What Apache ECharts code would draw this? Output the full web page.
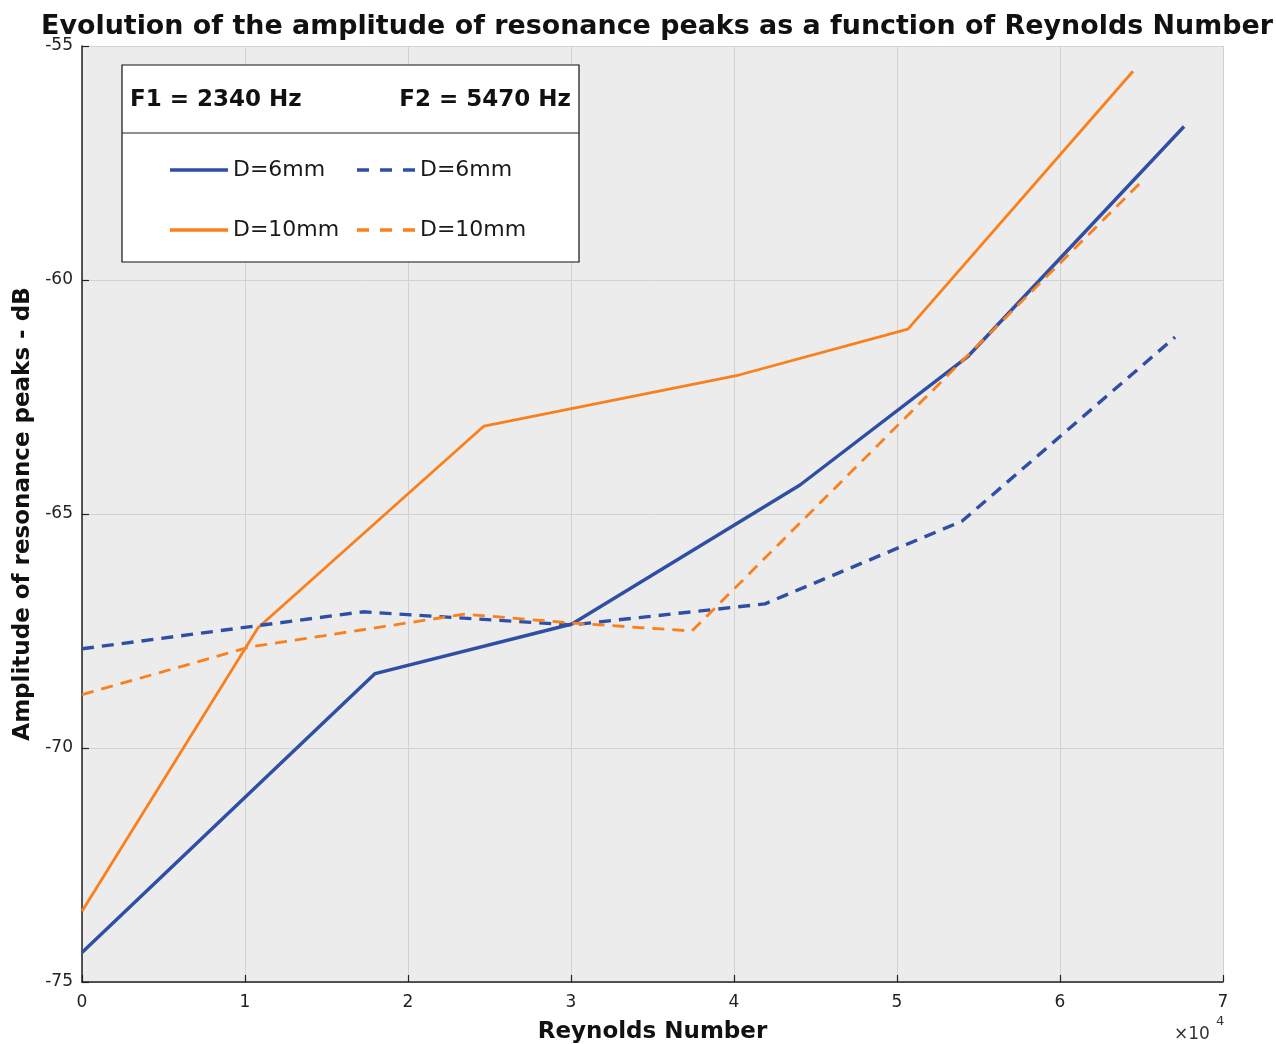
<!DOCTYPE html>
<html>
<head>
<meta charset="utf-8">
<script src="https://cdn.jsdelivr.net/npm/echarts@6/dist/echarts.min.js"></script>
<style>
html, body { margin: 0; padding: 0; background: #fff; }
#chart { width: 1276px; height: 1044px; }
</style>
</head>
<body>
<div id="chart"></div>
<script>
// Reynolds number (x) and peak amplitude in dB (y)
var reF1D6  = [0, 17980, 30060, 44050, 54360, 67610];
var dbF1D6  = [-74.37, -68.41, -67.35, -64.38, -61.63, -56.72];
var reF1D10 = [0, 10800, 24660, 40300, 50670, 64480];
var dbF1D10 = [-73.49, -67.43, -63.12, -62.03, -61.05, -55.54];
var reF2D6  = [0, 17240, 30060, 41900, 54000, 67060];
var dbF2D6  = [-67.88, -67.09, -67.37, -66.92, -65.15, -61.22];
var reF2D10 = [0, 10310, 23500, 30060, 37420, 64910];
var dbF2D10 = [-68.86, -67.84, -67.14, -67.33, -67.50, -57.93];

var BLUE = '#2f4fa6', ORANGE = '#fb7f1a';
var FONT = 'DejaVu Sans';

// legend glyphs: a plain bar and three dashes
var SOLID_ICON = 'path://M0,0H58V3.4H0Z';
var DASH_ICON = 'path://M0,0H12V3.4H0Z M23,0H35V3.4H23Z M46,0H58V3.4H46Z';

function pairs(xs, ys) {
    var out = [];
    for (var i = 0; i < xs.length; i++) out.push([xs[i], ys[i]]);
    return out;
}

function lineSeries(name, xs, ys, color, width, dashed) {
    return {
        name: name,
        type: 'line',
        data: pairs(xs, ys),
        symbol: 'none',
        animation: false,
        lineStyle: { color: color, width: width, type: dashed ? [12, 8] : 'solid' },
        itemStyle: { color: color }
    };
}

var chart = echarts.init(document.getElementById('chart'));

var legendCommon = {
    orient: 'vertical',
    z: 30,
    padding: 0,
    itemWidth: 58,
    itemHeight: 3.4,
    itemGap: 38,
    textStyle: { fontFamily: FONT, fontSize: 22, color: '#1a1a1a', lineHeight: 22 },
    formatter: function (name) { return name.replace(/^F\d /, ''); },
    selectedMode: false
};

var option = {
    backgroundColor: '#fff',
    title: {
        text: 'Evolution of the amplitude of resonance peaks as a function of Reynolds Number',
        left: 652, textAlign: 'center', top: 9,
        textStyle: { fontFamily: FONT, fontSize: 26.9, fontWeight: 'bold', color: '#111' }
    },
    grid: {
        left: 82, right: 53, top: 46, bottom: 62,
        outerBoundsMode: 'none',
        show: true, backgroundColor: '#ececec', borderWidth: 0
    },
    legend: [
        Object.assign({
            data: [{ name: 'F1 D=6mm', icon: SOLID_ICON }, { name: 'F1 D=10mm', icon: SOLID_ICON }],
            left: 170, top: 159
        }, legendCommon),
        Object.assign({
            data: [{ name: 'F2 D=6mm', icon: DASH_ICON }, { name: 'F2 D=10mm', icon: DASH_ICON }],
            left: 357, top: 159
        }, legendCommon)
    ],
    xAxis: {
        type: 'value', min: 0, max: 70000, interval: 10000,
        name: 'Reynolds Number', nameLocation: 'middle', nameGap: 39,
        nameTextStyle: { fontFamily: FONT, fontSize: 23, fontWeight: 'bold', color: '#111' },
        axisLine: { lineStyle: { color: '#222', width: 1.5 } },
        axisTick: { inside: true, length: 7, lineStyle: { color: '#222', width: 1.2 } },
        axisLabel: {
            fontFamily: FONT, fontSize: 17, color: '#222', margin: 12,
            formatter: function (v) { return String(v / 10000); }
        },
        splitLine: { show: true, lineStyle: { color: '#d2d2d2', width: 1 } }
    },
    yAxis: {
        type: 'value', min: -75, max: -55, interval: 5,
        name: 'Amplitude of resonance peaks - dB', nameLocation: 'middle', nameGap: 46,
        nameTextStyle: { fontFamily: FONT, fontSize: 23, fontWeight: 'bold', color: '#111' },
        axisLine: { show: true, lineStyle: { color: '#222', width: 1.5 } },
        axisTick: { show: true, inside: true, length: 7, lineStyle: { color: '#222', width: 1.2 } },
        axisLabel: { fontFamily: FONT, fontSize: 17, color: '#222', margin: 9 },
        splitLine: { show: true, lineStyle: { color: '#d2d2d2', width: 1 } }
    },
    graphic: [
        {
            type: 'rect', z: 10,
            shape: { x: 122, y: 65, width: 457, height: 197 },
            style: { fill: '#fff', stroke: '#111', lineWidth: 1.2 }
        },
        {
            type: 'line', z: 11,
            shape: { x1: 122, y1: 133, x2: 579, y2: 133 },
            style: { stroke: '#222', lineWidth: 1.2 }
        },
        {
            type: 'text', z: 11, left: 130, top: 89,
            style: { text: 'F1 = 2340 Hz', font: 'bold 23px "DejaVu Sans"', fill: '#111' }
        },
        {
            type: 'text', z: 11, right: 1276 - 571, top: 89,
            style: { text: 'F2 = 5470 Hz', font: 'bold 23px "DejaVu Sans"', fill: '#111' }
        },
        {
            type: 'text', z: 11, left: 1174, top: 1026,
            style: { text: '×10', font: '17px "DejaVu Sans"', fill: '#333' }
        },
        {
            type: 'text', z: 11, left: 1216, top: 1015,
            style: { text: '4', font: '13px "DejaVu Sans"', fill: '#333' }
        }
    ],
    series: [
        lineSeries('F1 D=6mm', reF1D6, dbF1D6, BLUE, 3.4, false),
        lineSeries('F1 D=10mm', reF1D10, dbF1D10, ORANGE, 2.8, false),
        lineSeries('F2 D=6mm', reF2D6, dbF2D6, BLUE, 3.4, true),
        lineSeries('F2 D=10mm', reF2D10, dbF2D10, ORANGE, 2.8, true)
    ]
};

chart.setOption(option);
</script>
</body>
</html>
